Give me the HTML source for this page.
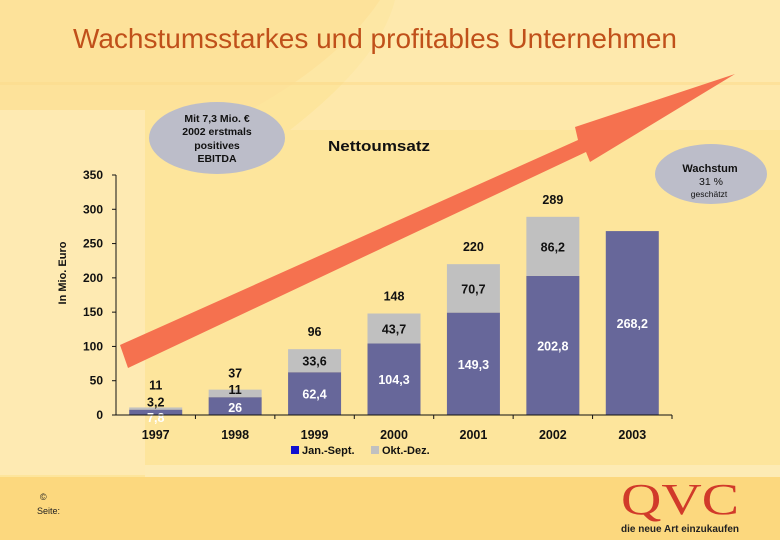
<!DOCTYPE html>
<html><head><meta charset="utf-8"><style>
body{margin:0;width:780px;height:540px;overflow:hidden;font-family:"Liberation Sans",sans-serif;}
svg text{font-family:"Liberation Sans",sans-serif;}
</style></head><body>
<svg id="chart" width="780" height="540" viewBox="0 0 780 540">
<rect x="0" y="0" width="780" height="540" fill="#fde59c"/>
<path d="M0 0 H780 V82 H0 Z" fill="#fde7a4"/>
<path d="M380 0 Q340 60 250 110 L0 110 L0 0 Z" fill="#fde29a"/>
<path d="M395 0 Q380 60 290 130 H780 V0 Z" fill="#feeab0" opacity="0.7"/>
<rect x="0" y="82" width="780" height="3" fill="#fcd98a" opacity="0.5"/>
<rect x="0" y="110" width="145" height="365" fill="#feeab2"/>
<rect x="145" y="465" width="635" height="12" fill="#fdebb4"/>
<rect x="0" y="477" width="780" height="63" fill="#fcd87e"/>
<text x="375" y="48" text-anchor="middle" font-size="27.5" fill="#c0501a" textLength="604" lengthAdjust="spacingAndGlyphs">Wachstumsstarkes und profitables Unternehmen</text>
<text x="379" y="151" text-anchor="middle" font-size="15" font-weight="bold" fill="#111" textLength="102" lengthAdjust="spacingAndGlyphs">Nettoumsatz</text>
<text transform="translate(66,273) rotate(-90)" text-anchor="middle" font-size="11" font-weight="bold" fill="#111">In Mio. Euro</text>
<g id="plot"></g>
<polygon points="120,345 578,140 575,127 735,74 590,162 586,152 128,368" fill="#f5714f"/>
<ellipse cx="217" cy="138" rx="68" ry="36" fill="#bcbdc9"/>
<g font-size="10.5" font-weight="bold" text-anchor="middle" fill="#111">
<text x="217" y="122">Mit 7,3 Mio. €</text><text x="217" y="135">2002 erstmals</text><text x="217" y="149">positives</text><text x="217" y="162">EBITDA</text></g>
<ellipse cx="711" cy="174" rx="56" ry="30" fill="#bcbdc9"/>
<text x="710" y="172" text-anchor="middle" font-size="11" font-weight="bold" fill="#111">Wachstum</text>
<text x="711" y="185" text-anchor="middle" font-size="10.5" fill="#111">31 %</text>
<text x="709" y="197" text-anchor="middle" font-size="8.5" fill="#111">geschätzt</text>
<rect x="291" y="446" width="8" height="8" fill="#1010d0"/>
<text x="302" y="454" font-size="11" font-weight="bold" fill="#111">Jan.-Sept.</text>
<rect x="371" y="446" width="8" height="8" fill="#c0c0c0"/>
<text x="382" y="454" font-size="11" font-weight="bold" fill="#111">Okt.-Dez.</text>
<text x="40" y="500" font-size="9" fill="#222">©</text>
<text x="37" y="514" font-size="9" fill="#222">Seite:</text>
<text x="680" y="514" text-anchor="middle" font-size="44" fill="#d13a2a" style="font-family:'Liberation Serif',serif" textLength="118" lengthAdjust="spacingAndGlyphs">QVC</text>
<text x="680" y="532" text-anchor="middle" font-size="10" font-weight="bold" fill="#222" textLength="118" lengthAdjust="spacingAndGlyphs">die neue Art einzukaufen</text>
</svg>
<script>
const categories=["1997","1998","1999","2000","2001","2002","2003"];
const janSept=[7.8,26,62.4,104.3,149.3,202.8,268.2];
const oktDez=[3.2,11,33.6,43.7,70.7,86.2,0];
const totals=["11","37","96","148","220","289",""];
const janLabels=["7,8","26","62,4","104,3","149,3","202,8","268,2"];
const oktLabels=["3,2","11","33,6","43,7","70,7","86,2",""];
const yTicks=[0,50,100,150,200,250,300,350];
const NS="http://www.w3.org/2000/svg";
const plot=document.getElementById('plot');
const x0=116,x1=672,y0=415,yTop=175,yMax=350;
const slot=(x1-x0)/categories.length;
const y=v=>y0-(v/yMax)*(y0-yTop);
const xc=i=>x0+slot*(i+0.5);
function mk(tag,attrs,txt){const e=document.createElementNS(NS,tag);for(const k in attrs)e.setAttribute(k,attrs[k]);if(txt!==undefined)e.textContent=txt;plot.appendChild(e);return e;}
let e;
yTicks.forEach(t=>{
 e=mk('text',{x:103,y:y(t)+4,'text-anchor':'end','font-size':12,'font-weight':'bold',fill:'#111'},t);
 
 
});
categories.forEach((c,i)=>{
 const bw=53,bx=xc(i)-bw/2;
 e=mk('rect',{x:bx,y:y(janSept[i]),width:bw,height:y0-y(janSept[i]),fill:'#67679a'});
 
 
 const top=y(janSept[i]+oktDez[i]);
 if(oktDez[i]>0){
  e=mk('rect',{x:bx,y:top,width:bw,height:y(janSept[i])-top,fill:'#c0c0c0'});
  
  
 }
 const bh=y0-y(janSept[i]);
 const tiny=bh<10, small=bh<25;
 e=mk('text',{x:xc(i),y:tiny?y0+7:(small?y0-3:(y(janSept[i])+y0)/2+5),'text-anchor':'middle','font-size':12.5,'font-weight':'bold',fill:'#fff'},janLabels[i]);
 
 
 if(oktLabels[i]){
  const mid=(top+y(janSept[i]))/2+5;
  e=mk('text',{x:xc(i),y:tiny?top-1:(small?y(janSept[i])-3:mid),'text-anchor':'middle','font-size':12.5,'font-weight':'bold',fill:'#111'},oktLabels[i]);
  
  
 }
 if(totals[i]){
  e=mk('text',{x:xc(i),y:top-(tiny?18:(small?12:13)),'text-anchor':'middle','font-size':12.5,'font-weight':'bold',fill:'#111'},totals[i]);
  
  
 }
 e=mk('text',{x:xc(i),y:439,'text-anchor':'middle','font-size':12.5,'font-weight':'bold',fill:'#111'},c);
 
 
 e=mk('line',{x1:x0+slot*(i+1),x2:x0+slot*(i+1),y1:y0,y2:y0+4,stroke:'#111'});
 
 
});
e=mk('line',{x1:x0,x2:x0,y1:yTop,y2:y0,stroke:'#111'});


e=mk('line',{x1:x0,x2:x1,y1:y0,y2:y0,stroke:'#111'});


yTicks.forEach(t=>{e=mk('line',{x1:x0-4,x2:x0,y1:y(t),y2:y(t),stroke:'#111'});

});
</script>
</body></html>
